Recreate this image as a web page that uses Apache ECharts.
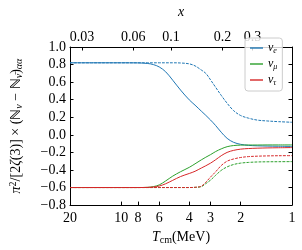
<!DOCTYPE html>
<html><head><meta charset="utf-8">
<script src="https://cdn.jsdelivr.net/npm/echarts@6/dist/echarts.min.js"></script>
<style>html,body{margin:0;padding:0;background:#fff}#c{width:302px;height:250px}</style>
</head><body><div id="c"></div>
<script>
// Temperature grid (MeV)
const T = [20, 15, 10, 8, 7, 6.5, 6, 5.5, 5, 4.5, 4, 3.7, 3.4, 3.2, 3.0, 2.8, 2.6, 2.4, 2.2, 2.0, 1.8, 1.6, 1.4, 1.2, 1.0];
// solid curves
const nueSolid   = [0.82, 0.82, 0.82, 0.819, 0.812, 0.800, 0.773, 0.718, 0.622, 0.51, 0.398, 0.338, 0.27, 0.222, 0.168, 0.105, 0.03, -0.04, -0.085, -0.108, -0.12, -0.125, -0.128, -0.130, -0.132];
const numuSolid  = [-0.6, -0.6, -0.6, -0.6, -0.598, -0.59, -0.57, -0.525, -0.47, -0.42, -0.37, -0.33, -0.285, -0.255, -0.225, -0.19, -0.16, -0.135, -0.122, -0.117, -0.116, -0.116, -0.115, -0.115, -0.115];
const nutauSolid = [-0.6, -0.6, -0.6, -0.6, -0.598, -0.594, -0.583, -0.557, -0.518, -0.475, -0.44, -0.415, -0.378, -0.352, -0.322, -0.283, -0.238, -0.2, -0.177, -0.163, -0.156, -0.152, -0.149, -0.147, -0.145];
// dashed curves
const nueDashed   = [0.82, 0.82, 0.82, 0.82, 0.82, 0.82, 0.82, 0.82, 0.82, 0.818, 0.808, 0.785, 0.738, 0.700, 0.625, 0.54, 0.45, 0.36, 0.276, 0.22, 0.19, 0.168, 0.158, 0.15, 0.143];
const numuDashed  = [-0.6, -0.6, -0.6, -0.6, -0.6, -0.6, -0.6, -0.6, -0.6, -0.6, -0.6, -0.598, -0.59, -0.555, -0.515, -0.46, -0.405, -0.365, -0.338, -0.322, -0.314, -0.309, -0.307, -0.306, -0.305];
const nutauDashed = [-0.6, -0.6, -0.6, -0.6, -0.6, -0.6, -0.6, -0.6, -0.6, -0.6, -0.6, -0.597, -0.585, -0.54, -0.48, -0.42, -0.35, -0.30, -0.275, -0.258, -0.248, -0.243, -0.240, -0.238, -0.237];
// tick labels
const bottomTicks = [20, 10, 8, 6, 4, 3, 2, 1];
const topTicks = [0.03, 0.06, 0.1, 0.2, 0.3];
const electronMass = 0.511; // x = m_e / T
const flavours = ['e', 'mu', 'tau'];
const flavourLabels = {e: 'e', mu: 'μ', tau: 'τ'};

const FONT = 'Liberation Serif';
const FS = 14;
const colors = {e: '#1f77b4', mu: '#2ca02c', tau: '#d62728'};
const pts = arr => T.map((t, i) => [t, arr[i]]);

const chart = echarts.init(document.getElementById('c'), null, {renderer: 'canvas'});
const axisLine = {show: true, onZero: false, lineStyle: {color: '#000', width: 1}};
const tick = {show: true, inside: true, length: 3.5, lineStyle: {color: '#000', width: 1}};

function line(name, data, color, dashed) {
  return {
    name: name, type: 'line', data: pts(data), showSymbol: false, symbol: 'none',
    smooth: 0.35, animation: false,
    lineStyle: {color: color, width: 1, type: dashed ? [2.8, 1.2] : 'solid'},
    itemStyle: {color: color}
  };
}

const option = {
  animation: false,
  grid: {left: 56, right: 10, top: 33, bottom: 38},
  legend: {
    data: flavours, orient: 'vertical', left: 245, top: 38,
    icon: 'rect', itemWidth: 13, itemHeight: 1.4, itemGap: 3,
    padding: [4, 5, 4, 5], borderColor: '#ccc', borderWidth: 1, borderRadius: 3,
    backgroundColor: 'rgba(255,255,255,0.8)',
    formatter: n => '{n|ν}{s|' + flavourLabels[n] + '}',
    textStyle: {fontFamily: FONT, fontSize: 12, color: '#000',
      rich: {n: {fontFamily: FONT, fontSize: 12, fontStyle: 'italic'},
             s: {fontFamily: FONT, fontSize: 8, fontStyle: 'italic', padding: [6, 0, 0, 0]}}}
  },
  xAxis: [
    {
      type: 'log', logBase: 10, inverse: true, min: 1, max: 20, position: 'bottom',
      axisLine: axisLine, splitLine: {show: false}, minorTick: {show: false},
      axisTick: Object.assign({}, tick, {customValues: bottomTicks}),
      axisLabel: {customValues: bottomTicks, fontFamily: FONT, fontSize: FS, color: '#000', margin: 6,
        formatter: v => String(Math.round(v))},
      name: '{i|T}{s|cm}{n|(MeV)}', nameLocation: 'middle', nameGap: 22,
      nameTextStyle: {fontFamily: FONT, fontSize: FS, color: '#000',
        rich: {i: {fontFamily: FONT, fontSize: FS, fontStyle: 'italic'},
               s: {fontFamily: FONT, fontSize: 10, padding: [6, 0, 0, 0]},
               n: {fontFamily: FONT, fontSize: FS}}}
    },
    {
      type: 'log', logBase: 10, inverse: true, min: 1, max: 20, position: 'top',
      axisLine: axisLine, splitLine: {show: false}, minorTick: {show: false},
      axisTick: Object.assign({}, tick, {customValues: topTicks.map(x => electronMass / x)}),
      axisLabel: {customValues: topTicks.map(x => electronMass / x), fontFamily: FONT, fontSize: FS, color: '#000', margin: 3,
        formatter: v => String(Number((electronMass / v).toPrecision(1)))},
      name: 'x', nameLocation: 'middle', nameGap: 28,
      nameTextStyle: {fontFamily: FONT, fontSize: FS, fontStyle: 'italic', color: '#000'}
    }
  ],
  yAxis: [
    {
      type: 'value', min: -0.8, max: 1.0, interval: 0.2, position: 'left',
      axisLine: axisLine, splitLine: {show: false}, axisTick: tick,
      axisLabel: {fontFamily: FONT, fontSize: FS, color: '#000', margin: 4,
        formatter: v => Math.abs(v) < 1e-9 ? '0.0' : v.toFixed(1).replace('-', '−')},
      name: '{i|π}{sup|2}{n|/[2}{i|ζ}{n|(3)] × (ℕ}{si|ν}{n| − ℕ}{si|ν̄}{n|)}{si|αα}',
      nameLocation: 'middle', nameRotate: 90, nameGap: 46,
      nameTextStyle: {fontFamily: FONT, fontSize: FS, color: '#000',
        rich: {i: {fontFamily: FONT, fontSize: FS, fontStyle: 'italic'},
               n: {fontFamily: FONT, fontSize: FS},
               sup: {fontFamily: FONT, fontSize: 10, padding: [0, 0, 6, 0]},
               si: {fontFamily: FONT, fontSize: 10, fontStyle: 'italic', padding: [6, 0, 0, 0]}}}
    },
    {
      type: 'value', min: -0.8, max: 1.0, interval: 0.2, position: 'right',
      axisLine: axisLine, splitLine: {show: false}, axisTick: tick,
      axisLabel: {show: false}
    }
  ],
  series: [
    line('e', nueSolid, colors.e, false),
    line('e-dashed', nueDashed, colors.e, true),
    line('mu', numuSolid, colors.mu, false),
    line('mu-dashed', numuDashed, colors.mu, true),
    line('tau', nutauSolid, colors.tau, false),
    line('tau-dashed', nutauDashed, colors.tau, true)
  ]
};
chart.setOption(option);
</script></body></html>
